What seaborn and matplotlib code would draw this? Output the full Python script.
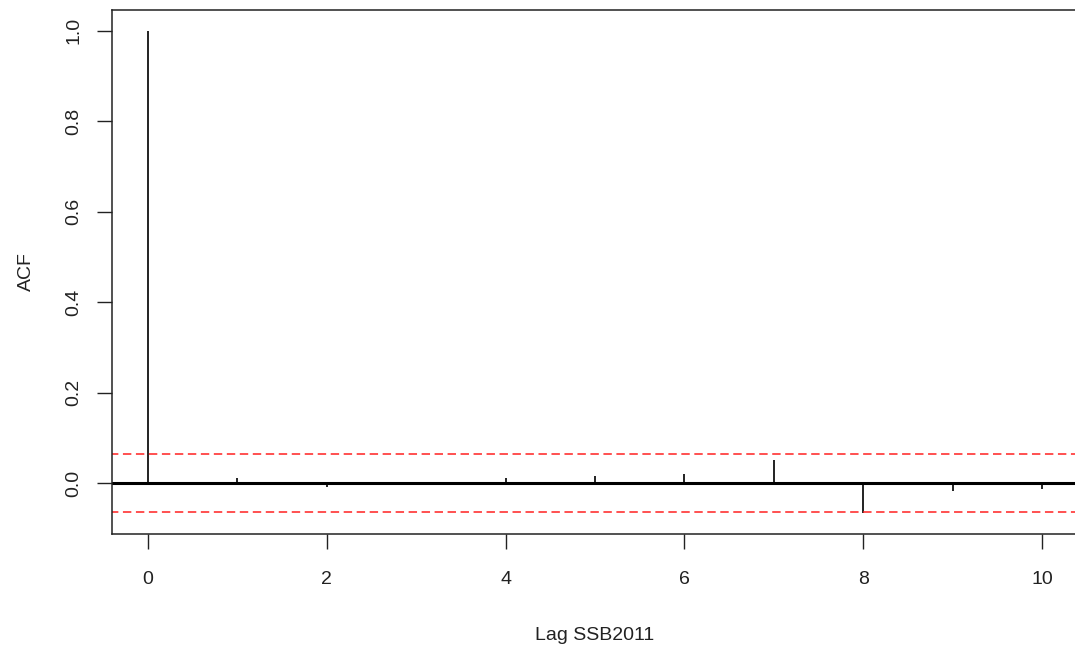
import numpy as np
import pandas as pd
import seaborn as sns
import matplotlib
matplotlib.use("Agg")
import matplotlib.pyplot as plt

# =========================
# DADOS
# =========================

lags = [0, 1, 2, 3, 4, 5, 6, 7, 8, 9, 10]
acf_vals = [1.0, 0.012, -0.008, 0.001, 0.0125, 0.016, 0.02, 0.052, -0.066, -0.018, -0.012]
ci_bound = 0.064

dados = pd.DataFrame({"lag": lags, "acf": acf_vals})

# =========================
# ESTILO
# =========================

sns.set_theme(style="white")
plt.rcParams["font.family"] = ["Liberation Sans", "DejaVu Sans"]

fig = plt.figure(figsize=(10.75, 6.46), dpi=100)
ax = fig.add_axes([0.1042, 0.1734, 0.8986, 0.8111])

# =========================
# GRAFICO - ACF
# =========================

ax.vlines(dados["lag"], 0, dados["acf"], color="#222222", linewidth=1.4)
ax.axhline(0, color="black", linewidth=2.2)
sns.lineplot(x=[-1, 11], y=[ci_bound, ci_bound], ax=ax, color="#ff2020",
             linewidth=1.1, linestyle=(0, (5.5, 3)))
sns.lineplot(x=[-1, 11], y=[-ci_bound, -ci_bound], ax=ax, color="#ff2020",
             linewidth=1.1, linestyle=(0, (5.5, 3)))

ax.set_xlim(-0.4, 10.4)
ax.set_ylim(-0.112, 1.046)
ax.set_xticks([0, 2, 4, 6, 8, 10])
ax.set_yticks([0.0, 0.2, 0.4, 0.6, 0.8, 1.0])
ax.set_yticklabels(["0.0", "0.2", "0.4", "0.6", "0.8", "1.0"], rotation=90, va="center")

for s in ax.spines.values():
    s.set_color("#222222")
    s.set_linewidth(1.1)

ax.tick_params(axis="both", direction="out", length=10.5, width=1.0,
               color="#222222", labelsize=14, labelcolor="#222222",
               left=True, bottom=True)
ax.tick_params(axis="x", pad=16)
ax.tick_params(axis="y", pad=11)

ax.set_xlabel("Lag SSB2011", fontsize=14, color="#222222", labelpad=28)
ax.set_ylabel("ACF", fontsize=14, color="#222222", labelpad=22)

fig.savefig("out.png", dpi=100)
